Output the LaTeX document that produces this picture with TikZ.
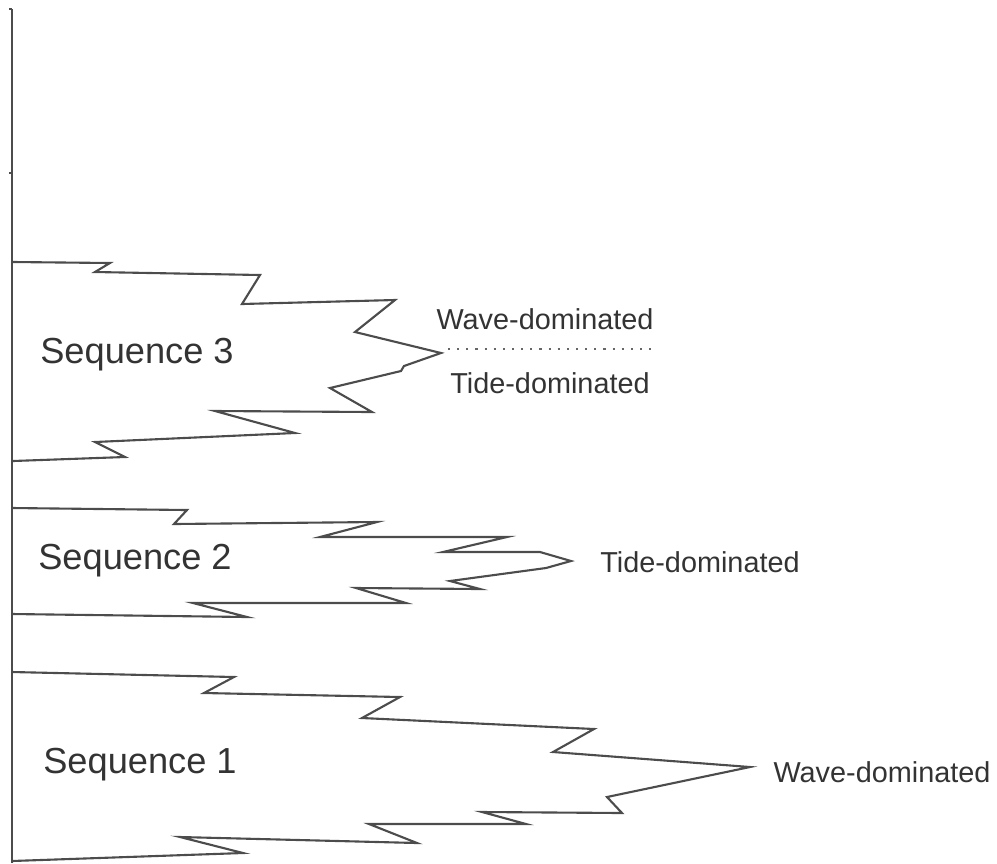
\documentclass[tikz,border=0pt]{standalone}
\usepackage{fontspec}
\setmainfont{Liberation Sans}

\begin{document}
\begin{tikzpicture}[x=0.01cm, y=-0.01cm,
    bed/.style={line width=0.6pt, black!70, line join=miter},
    seqlabel/.style={font=\fontsize{10.3}{12}\selectfont, black!80},
    facies/.style={font=\fontsize{8.2}{10}\selectfont, black!80}]
                \useasboundingbox (0,0) rectangle (997,863);

                % Vertical axis
                \draw[bed] (12,9) -- (12,863);
                \draw[bed] (9,9) -- (12,9);
                \draw[bed] (9,173) -- (12,173);

                % Sequence 3
                \draw[bed] (13,262) -- (110,263) -- (95,272) -- (260,275) -- (242,304) -- (395,300)
                    -- (355,332) -- (441,353) -- (404,366) -- (401,371) -- (330,388) -- (372,412)
                    -- (215,411) -- (295,433) -- (95,442) -- (125,457) -- (13,461);
                \node[seqlabel] (seq3) at (137,355) {Sequence 3};

                % Sequence 2
                \draw[bed] (12,508) -- (187,510) -- (174,524) -- (377,522) -- (320,537) -- (507,537)
                    -- (443,552) -- (540,552) -- (571,561) -- (546,568) -- (450,581) -- (480,589)
                    -- (356,588) -- (406,603) -- (193,603) -- (247,617) -- (12,614);
                \node[seqlabel] (seq2) at (135,561) {Sequence 2};

                % Sequence 1
                \draw[bed] (12,672) -- (234,677) -- (204,693) -- (400,697) -- (362,718) -- (594,729)
                    -- (553,752) -- (750,767) -- (607,797) -- (622,813) -- (482,812) -- (526,824)
                    -- (369,824) -- (417,843) -- (180,837) -- (243,853) -- (12,861);
                \node[seqlabel] (seq1) at (140,765) {Sequence 1};

                % Facies labels
                \node[facies] (wave3) at (545,319) {Wave-dominated};
                \node[facies] (tide3) at (550,383) {Tide-dominated};
                \draw[black!60, dotted, line width=0.6pt] (448,349) -- (658,349);
                \node[facies] (tide2) at (700,562) {Tide-dominated};
                \node[facies] (wave1) at (882,772) {Wave-dominated};
            \end{tikzpicture}
\end{document}
